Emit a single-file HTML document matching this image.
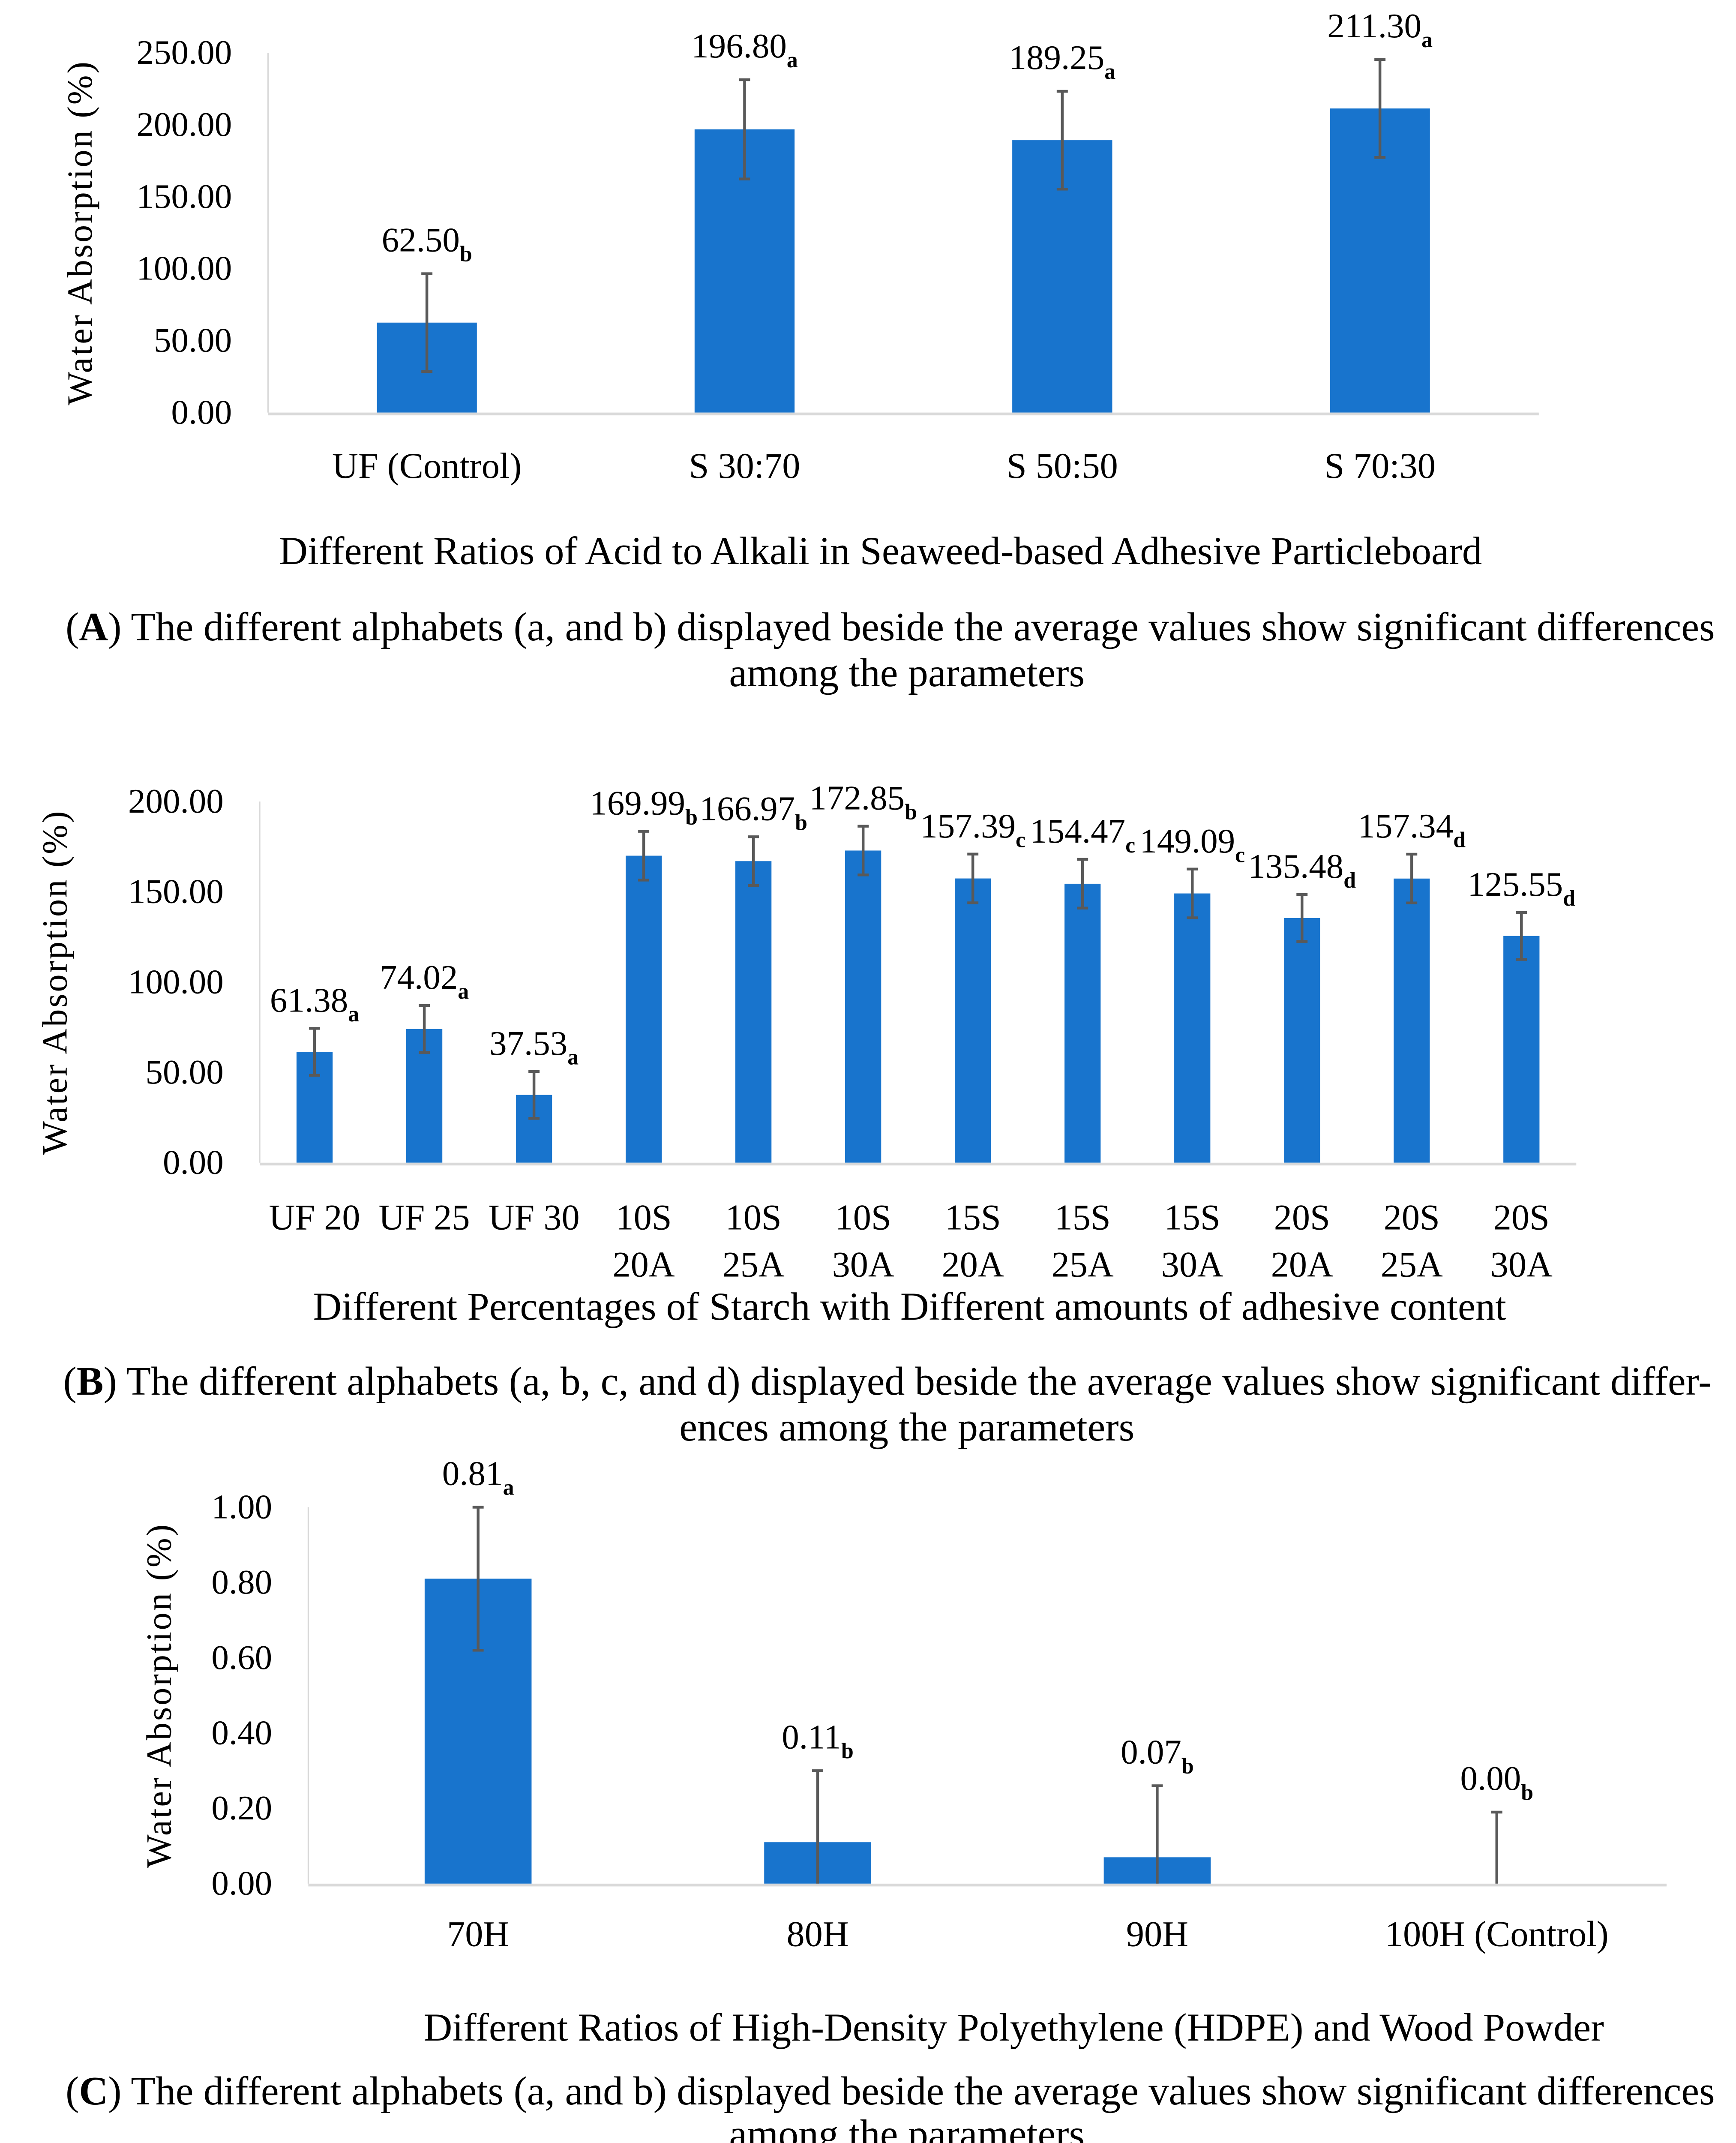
<!DOCTYPE html>
<html><head><meta charset="utf-8"><style>
html,body{margin:0;padding:0;background:#fff;overflow:hidden;width:4051px;height:5056px}
svg{display:block;width:4051px;height:5056px}
text{font-family:"Liberation Serif",serif;fill:#000}
</style></head><body>
<svg id="s" viewBox="0 0 1250 1560" preserveAspectRatio="none" xmlns="http://www.w3.org/2000/svg"></svg>
<script>
const catsA=["UF (Control)","S 30:70","S 50:50","S 70:30"];
const valsA=[62.50,196.80,189.25,211.30];
const errA=[34,34.5,34,34];
const letA=["b","a","a","a"];
const ticksA=[0,50,100,150,200,250];

const catsB=[["UF 20"],["UF 25"],["UF 30"],["10S","20A"],["10S","25A"],["10S","30A"],["15S","20A"],["15S","25A"],["15S","30A"],["20S","20A"],["20S","25A"],["20S","30A"]];
const valsB=[61.38,74.02,37.53,169.99,166.97,172.85,157.39,154.47,149.09,135.48,157.34,125.55];
const errB=[13,13,13,13.5,13.5,13.5,13.5,13.5,13.5,13,13.5,13];
const letB=["a","a","a","b","b","b","c","c","c","d","d","d"];
const ticksB=[0,50,100,150,200];

const catsC=["70H","80H","90H","100H (Control)"];
const valsC=[0.81,0.11,0.07,0.00];
const errC=[0.19,0.19,0.19,0.19];
const letC=["a","b","b","b"];
const ticksC=[0,0.2,0.4,0.6,0.8,1.0];

const NS="http://www.w3.org/2000/svg";
const svg=document.getElementById('s');
function mk(tag,attrs,parent){const e=document.createElementNS(NS,tag);for(const k in attrs)e.setAttribute(k,attrs[k]);(parent||svg).appendChild(e);return e;}

function chart(cfg){
  const g=mk('g',{});
  
  
  const y=v=>cfg.y0-(v-cfg.min)/(cfg.max-cfg.min)*(cfg.y0-cfg.y1);
  const n=cfg.cats.length, step=(cfg.xr-cfg.xl)/n;
  const x=i=>cfg.xl+step*(i+0.5);
  const ax=mk('line',{x1:cfg.xl,y1:cfg.y1,x2:cfg.xl,y2:cfg.y0,stroke:'#d9d9d9','stroke-width':1},g);
  
  
  cfg.ticks.forEach(t=>{
    const tx=mk('text',{x:cfg.xl-26,y:y(t)+8,'text-anchor':'end','font-size':25},g);
    tx.textContent=t.toFixed(2);
    
    
  });
  cfg.vals.forEach((v,i)=>{
    const b=mk('rect',{x:x(i)-cfg.bw/2,y:y(v),width:cfg.bw,height:y(cfg.min)-y(v),fill:'#1874cd'},g);
    
    
    const top=y(v+cfg.err[i]), bot=Math.min(y(v-cfg.err[i]),cfg.y0);
    const el=mk('path',{d:`M${x(i)},${top}V${bot}M${x(i)-4},${top}H${x(i)+4}`+(v-cfg.err[i]>=cfg.min?`M${x(i)-4},${bot}H${x(i)+4}`:''),stroke:'#595959','stroke-width':2,fill:'none'},g);
    
    
    const lb=mk('text',{x:x(i),y:top-cfg.lg,'text-anchor':'middle','font-size':25},g);
    
    
    lb.appendChild(document.createTextNode(v.toFixed(2)));
    const sub=mk('tspan',{dy:7,'font-size':16,'font-weight':'bold'},lb);
    sub.textContent=cfg.lets[i];
    const cl=[].concat(cfg.cats[i]);
    cl.forEach((c,k)=>{
      const t=mk('text',{x:x(i),y:cfg.cy+k*34,'text-anchor':'middle','font-size':26},g);
      t.textContent=c;
      
      
    });
  });
  const base=mk('line',{x1:cfg.xl,y1:cfg.y0+1,x2:cfg.xr,y2:cfg.y0+1,stroke:'#d9d9d9','stroke-width':2},g);
  
  
  const yt=mk('text',{x:0,y:0,transform:`translate(${cfg.ytx},${(cfg.y0+cfg.y1)/2}) rotate(-90)`,'text-anchor':'middle','font-size':25.5,'letter-spacing':1.2},g);
  yt.textContent='Water Absorption (%)';
  
  
  const xt=mk('text',{x:cfg.xtx,y:cfg.xty,'text-anchor':'middle','font-size':28.5},g);
  xt.textContent=cfg.xtitle;
  
  
  cfg.cap.forEach((c,k)=>{
    const t=mk('text',{x:cfg.capx[k],y:cfg.capy+k*cfg.capd,'text-anchor':'middle','font-size':29},g);
    
    
    if(k===0){t.appendChild(document.createTextNode('('));const bb=mk('tspan',{'font-weight':'bold'},t);bb.textContent=cfg.letter;t.appendChild(document.createTextNode(') '+c));}
    else t.textContent=c;
  });
}
chart({name:'chart-a',cats:catsA,vals:valsA,err:errA,lets:letA,ticks:ticksA,min:0,max:250,xl:193,xr:1108,y0:297,y1:38,bw:72,lg:16,cy:344,ytx:66,xtx:634,xty:406,letter:'A',
 xtitle:'Different Ratios of Acid to Alkali in Seaweed-based Adhesive Particleboard',
 cap:['The different alphabets (a, and b) displayed beside the average values show significant differences','among the parameters'],capx:[641,653],capy:461,capd:33});
chart({name:'chart-b',cats:catsB,vals:valsB,err:errB,lets:letB,ticks:ticksB,min:0,max:200,xl:187,xr:1135,y0:837,y1:577,bw:26,lg:12,cy:885,ytx:48,xtx:655,xty:950,letter:'B',
 xtitle:'Different Percentages of Starch with Different amounts of adhesive content',
 cap:['The different alphabets (a, b, c, and d) displayed beside the average values show significant differ-','ences among the parameters'],capx:[639,653],capy:1004,capd:33});
chart({name:'chart-c',cats:catsC,vals:valsC,err:errC,lets:letC,ticks:ticksC,min:0,max:1,xl:222,xr:1200,y0:1356,y1:1085,bw:77,lg:16,cy:1401,ytx:123,xtx:730,xty:1469,letter:'C',
 xtitle:'Different Ratios of High-Density Polyethylene (HDPE) and Wood Powder',
 cap:['The different alphabets (a, and b) displayed beside the average values show significant differences','among the parameters'],capx:[641,653],capy:1515,capd:31});
</script>
</body></html>
